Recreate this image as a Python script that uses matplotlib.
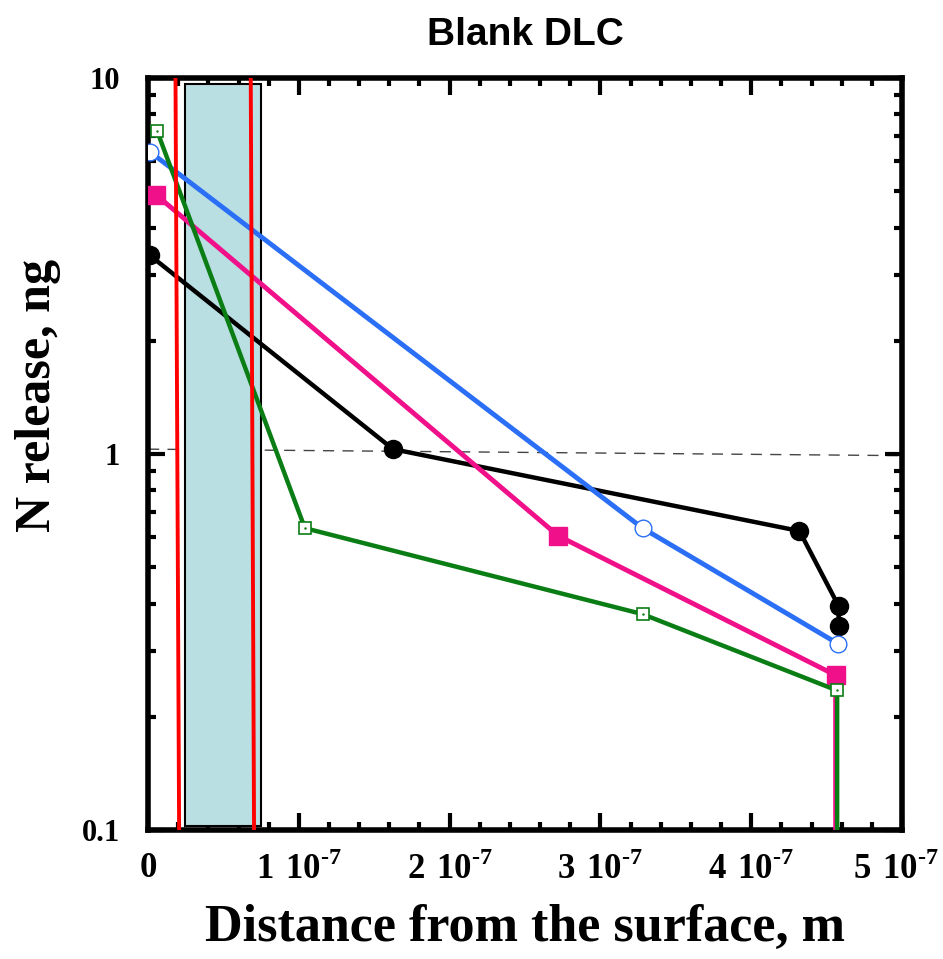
import numpy as np
import matplotlib
matplotlib.use("Agg")
import matplotlib.pyplot as plt
import matplotlib.transforms as mtransforms
from matplotlib.patches import Rectangle
from matplotlib.ticker import MultipleLocator, FixedLocator, FixedFormatter, LogLocator, NullFormatter

plt.rcParams['font.family'] = 'Liberation Serif'
plt.rcParams['font.weight'] = 'bold'
plt.rcParams['mathtext.fontset'] = 'custom'
plt.rcParams['mathtext.rm'] = 'Liberation Serif:bold'
plt.rcParams['mathtext.bf'] = 'Liberation Serif:bold'

# data (x in m, y in ng)
black_x = [0.01e-7, 1.625e-7, 4.32e-7, 4.58e-7, 4.58e-7]
black_y = [3.38, 1.03, 0.624, 0.394, 0.349]

blue_x = [0.013e-7, 3.28e-7, 4.575e-7]
blue_y = [6.36, 0.635, 0.313]

pink_x = [0.053e-7, 2.72e-7, 4.56e-7, 4.56e-7]
pink_y = [4.89, 0.606, 0.258, 0.01]

green_x = [0.06e-7, 1.04e-7, 3.28e-7, 4.57e-7, 4.57e-7]
green_y = [7.23, 0.635, 0.375, 0.235, 0.01]

red1_x = [0.182e-7, 0.206e-7]
red2_x = [0.681e-7, 0.703e-7]
red_y = [10, 0.1]

band_x = [0.245e-7, 0.746e-7]
band_y = [0.1026, 9.64]

ref_x = [0, 5e-7]
ref_y = [1.03, 0.99]

xtick_vals = [0, 1e-7, 2e-7, 3e-7, 4e-7, 5e-7]
xtick_labels = ['0'] + [r'$%d\ 10^{\text{-}7}$' % i for i in range(1, 6)]
ytick_vals = [0.1, 1, 10]
ytick_labels = ['0.1', '1', '10']

fig = plt.figure(figsize=(9.43, 9.59), dpi=100)
ax = fig.add_axes([0.157, 0.1345, 0.7995, 0.7842])
ax.set_yscale('log')

ax.plot(ref_x, ref_y, color='#444444', lw=1, dashes=(8, 6), zorder=1)
ax.add_patch(Rectangle((band_x[0], band_y[0]), band_x[1] - band_x[0], band_y[1] - band_y[0],
                       facecolor='#b9dfe3', edgecolor='black', lw=1.5, zorder=2))

ax.plot(black_x, black_y, color='black', lw=3.2, marker='o', ms=13, mfc='black', mec='black', zorder=3)
ax.plot(blue_x, blue_y, color='#2a6ff5', lw=3.5, marker='o', ms=12, mfc='white', mec='#2a6ff5', mew=1, zorder=3)
ax.plot(pink_x, pink_y, color='#f0108a', lw=3.5, marker='s', ms=13, mfc='#f0108a', mec='#f0108a',
        markevery=[0, 1, 2], zorder=3)
ax.plot(green_x, green_y, color='#0a7d14', lw=3.2, marker='s', ms=9, mfc='white', mec='#0a7d14', mew=1.2,
        markevery=[0, 1, 2, 3], zorder=4)
ax.plot(green_x[:4], green_y[:4], ls='none', marker='.', ms=1.5, color='#0a7d14', zorder=5)

ax.plot(red1_x, red_y, color='#ff0000', lw=2.8, zorder=6)
ax.plot(red2_x, red_y, color='#ff0000', lw=2.8, zorder=6)

ax.set_xlim(0, 5e-7)
ax.set_ylim(0.1, 10)

ax.xaxis.set_major_locator(FixedLocator(xtick_vals))
ax.xaxis.set_major_formatter(FixedFormatter(xtick_labels))
ax.xaxis.set_minor_locator(MultipleLocator(0.2e-7))
ax.yaxis.set_major_locator(FixedLocator(ytick_vals))
ax.yaxis.set_major_formatter(FixedFormatter(ytick_labels))
ax.yaxis.set_minor_locator(LogLocator(base=10, subs=np.arange(2, 10)))
ax.yaxis.set_minor_formatter(NullFormatter())

ax.tick_params(which='both', direction='in', top=True, right=True, width=3)
ax.tick_params(which='major', length=12)
ax.tick_params(which='minor', length=6)
ax.tick_params(axis='x', labelsize=25, pad=16)
ax.tick_params(axis='y', labelsize=22, pad=20)
for s in ax.spines.values():
    s.set_linewidth(4)

# keep the last x tick label inside the canvas
fig.canvas.draw()
last = ax.get_xticklabels()[-1]
last.set_transform(last.get_transform() + mtransforms.ScaledTranslation(-6 / 100, 0, fig.dpi_scale_trans))

ax.set_xlabel('Distance from the surface, m', fontsize=37.5, fontweight='bold', labelpad=12)
ax.set_ylabel('N release, ng', fontsize=36, fontweight='bold')
ax.yaxis.set_label_coords(-0.115, 0.578)
ax.set_title('Blank DLC', fontsize=28, fontweight='bold', family='Liberation Sans', pad=24)

fig.savefig('out.png', dpi=100)
